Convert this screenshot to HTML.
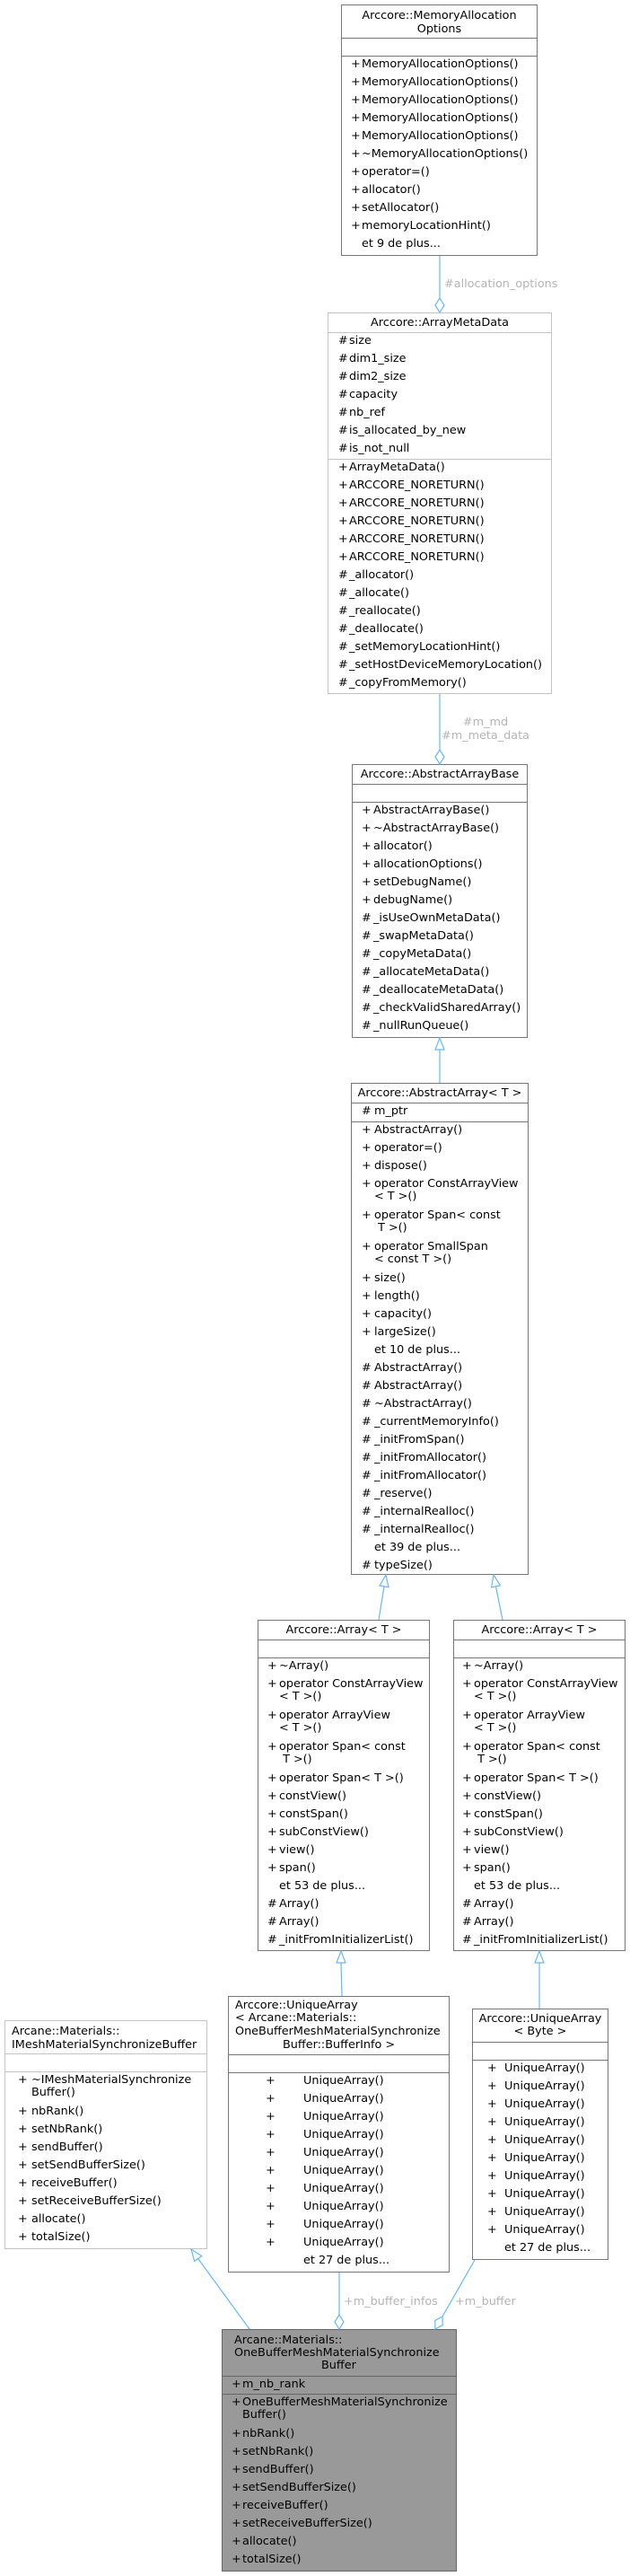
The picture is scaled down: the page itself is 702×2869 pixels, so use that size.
<!DOCTYPE html>
<html><head><meta charset="utf-8">
<style>
html,body{margin:0;padding:0;background:#fff}
body{width:702px;height:2869px;position:relative;overflow:hidden;font-family:"DejaVu Sans","Liberation Sans",sans-serif;font-size:12.8px;color:#000}
.b{position:absolute;border:1px solid #777;background:#fff;box-sizing:border-box;overflow:hidden}
.lt{border-color:#c4c4c4}
.h{box-sizing:border-box;border-bottom:1px solid;border-color:inherit;text-align:center;white-space:pre}
.sec{box-sizing:border-box;border-bottom:1px solid;border-color:inherit}
.r{height:20px;line-height:18px;position:relative;white-space:pre;padding-left:calc(var(--tx) - 1px);box-sizing:border-box}
.r2{height:35px;line-height:14px;padding-top:2px}
.s{position:absolute;left:calc(var(--sx) - 1px);top:0}
.r2 .s{top:2px}
svg{position:absolute;left:0;top:0}
.lb{fill:#b4b4b4;font-family:"DejaVu Sans","Liberation Sans",sans-serif;font-size:12.8px}
</style></head><body>

<!-- MemoryAllocationOptions -->
<div class="b" style="left:380px;top:5px;width:219px;height:280px;--sx:11px;--tx:23px">
<div class="h" style="height:37px;line-height:15px;padding-top:3.5px">Arccore::MemoryAllocation
Options</div>
<div class="sec" style="height:20px"></div>
<div class="r"><span class="s">+</span>MemoryAllocationOptions()</div>
<div class="r"><span class="s">+</span>MemoryAllocationOptions()</div>
<div class="r"><span class="s">+</span>MemoryAllocationOptions()</div>
<div class="r"><span class="s">+</span>MemoryAllocationOptions()</div>
<div class="r"><span class="s">+</span>MemoryAllocationOptions()</div>
<div class="r"><span class="s">+</span>~MemoryAllocationOptions()</div>
<div class="r"><span class="s">+</span>operator=()</div>
<div class="r"><span class="s">+</span>allocator()</div>
<div class="r"><span class="s">+</span>setAllocator()</div>
<div class="r"><span class="s">+</span>memoryLocationHint()</div>
<div class="r">et 9 de plus...</div>
</div>

<!-- ArrayMetaData -->
<div class="b lt" style="left:365px;top:348px;width:250px;height:425px;--sx:12px;--tx:24px">
<div class="h" style="height:22px;line-height:21px">Arccore::ArrayMetaData</div>
<div class="sec" style="height:141px">
<div class="r"><span class="s">#</span>size</div>
<div class="r"><span class="s">#</span>dim1_size</div>
<div class="r"><span class="s">#</span>dim2_size</div>
<div class="r"><span class="s">#</span>capacity</div>
<div class="r"><span class="s">#</span>nb_ref</div>
<div class="r"><span class="s">#</span>is_allocated_by_new</div>
<div class="r"><span class="s">#</span>is_not_null</div>
</div>
<div class="r"><span class="s">+</span>ArrayMetaData()</div>
<div class="r"><span class="s">+</span>ARCCORE_NORETURN()</div>
<div class="r"><span class="s">+</span>ARCCORE_NORETURN()</div>
<div class="r"><span class="s">+</span>ARCCORE_NORETURN()</div>
<div class="r"><span class="s">+</span>ARCCORE_NORETURN()</div>
<div class="r"><span class="s">+</span>ARCCORE_NORETURN()</div>
<div class="r"><span class="s">#</span>_allocator()</div>
<div class="r"><span class="s">#</span>_allocate()</div>
<div class="r"><span class="s">#</span>_reallocate()</div>
<div class="r"><span class="s">#</span>_deallocate()</div>
<div class="r"><span class="s">#</span>_setMemoryLocationHint()</div>
<div class="r"><span class="s">#</span>_setHostDeviceMemoryLocation()</div>
<div class="r"><span class="s">#</span>_copyFromMemory()</div>
</div>

<!-- AbstractArrayBase -->
<div class="b" style="left:392px;top:851px;width:196px;height:305px;--sx:11px;--tx:24px">
<div class="h" style="height:22px;line-height:21px">Arccore::AbstractArrayBase</div>
<div class="sec" style="height:20px"></div>
<div class="r"><span class="s">+</span>AbstractArrayBase()</div>
<div class="r"><span class="s">+</span>~AbstractArrayBase()</div>
<div class="r"><span class="s">+</span>allocator()</div>
<div class="r"><span class="s">+</span>allocationOptions()</div>
<div class="r"><span class="s">+</span>setDebugName()</div>
<div class="r"><span class="s">+</span>debugName()</div>
<div class="r"><span class="s">#</span>_isUseOwnMetaData()</div>
<div class="r"><span class="s">#</span>_swapMetaData()</div>
<div class="r"><span class="s">#</span>_copyMetaData()</div>
<div class="r"><span class="s">#</span>_allocateMetaData()</div>
<div class="r"><span class="s">#</span>_deallocateMetaData()</div>
<div class="r"><span class="s">#</span>_checkValidSharedArray()</div>
<div class="r"><span class="s">#</span>_nullRunQueue()</div>
</div>

<!-- AbstractArray -->
<div class="b" style="left:391px;top:1206px;width:198px;height:548px;--sx:12px;--tx:26px">
<div class="h" style="height:22px;line-height:21px">Arccore::AbstractArray&lt; T &gt;</div>
<div class="sec" style="height:21px"><div class="r"><span class="s">#</span>m_ptr</div></div>
<div class="r"><span class="s">+</span>AbstractArray()</div>
<div class="r"><span class="s">+</span>operator=()</div>
<div class="r"><span class="s">+</span>dispose()</div>
<div class="r r2"><span class="s">+</span>operator ConstArrayView
&lt; T &gt;()</div>
<div class="r r2"><span class="s">+</span>operator Span&lt; const
 T &gt;()</div>
<div class="r r2"><span class="s">+</span>operator SmallSpan
&lt; const T &gt;()</div>
<div class="r"><span class="s">+</span>size()</div>
<div class="r"><span class="s">+</span>length()</div>
<div class="r"><span class="s">+</span>capacity()</div>
<div class="r"><span class="s">+</span>largeSize()</div>
<div class="r">et 10 de plus...</div>
<div class="r"><span class="s">#</span>AbstractArray()</div>
<div class="r"><span class="s">#</span>AbstractArray()</div>
<div class="r"><span class="s">#</span>~AbstractArray()</div>
<div class="r"><span class="s">#</span>_currentMemoryInfo()</div>
<div class="r"><span class="s">#</span>_initFromSpan()</div>
<div class="r"><span class="s">#</span>_initFromAllocator()</div>
<div class="r"><span class="s">#</span>_initFromAllocator()</div>
<div class="r"><span class="s">#</span>_reserve()</div>
<div class="r"><span class="s">#</span>_internalRealloc()</div>
<div class="r"><span class="s">#</span>_internalRealloc()</div>
<div class="r">et 39 de plus...</div>
<div class="r"><span class="s">#</span>typeSize()</div>
</div>

<!-- Array left -->
<div class="b" style="left:287px;top:1804px;width:192px;height:369px;--sx:11px;--tx:24px">
<div class="h" style="height:22px;line-height:21px">Arccore::Array&lt; T &gt;</div>
<div class="sec" style="height:20px"></div>
<div class="r"><span class="s">+</span>~Array()</div>
<div class="r r2"><span class="s">+</span>operator ConstArrayView
&lt; T &gt;()</div>
<div class="r r2"><span class="s">+</span>operator ArrayView
&lt; T &gt;()</div>
<div class="r r2"><span class="s">+</span>operator Span&lt; const
 T &gt;()</div>
<div class="r"><span class="s">+</span>operator Span&lt; T &gt;()</div>
<div class="r"><span class="s">+</span>constView()</div>
<div class="r"><span class="s">+</span>constSpan()</div>
<div class="r"><span class="s">+</span>subConstView()</div>
<div class="r"><span class="s">+</span>view()</div>
<div class="r"><span class="s">+</span>span()</div>
<div class="r">et 53 de plus...</div>
<div class="r"><span class="s">#</span>Array()</div>
<div class="r"><span class="s">#</span>Array()</div>
<div class="r"><span class="s">#</span>_initFromInitializerList()</div>
</div>

<!-- Array right -->
<div class="b" style="left:505px;top:1804px;width:192px;height:369px;--sx:10px;--tx:23px">
<div class="h" style="height:22px;line-height:21px">Arccore::Array&lt; T &gt;</div>
<div class="sec" style="height:20px"></div>
<div class="r"><span class="s">+</span>~Array()</div>
<div class="r r2"><span class="s">+</span>operator ConstArrayView
&lt; T &gt;()</div>
<div class="r r2"><span class="s">+</span>operator ArrayView
&lt; T &gt;()</div>
<div class="r r2"><span class="s">+</span>operator Span&lt; const
 T &gt;()</div>
<div class="r"><span class="s">+</span>operator Span&lt; T &gt;()</div>
<div class="r"><span class="s">+</span>constView()</div>
<div class="r"><span class="s">+</span>constSpan()</div>
<div class="r"><span class="s">+</span>subConstView()</div>
<div class="r"><span class="s">+</span>view()</div>
<div class="r"><span class="s">+</span>span()</div>
<div class="r">et 53 de plus...</div>
<div class="r"><span class="s">#</span>Array()</div>
<div class="r"><span class="s">#</span>Array()</div>
<div class="r"><span class="s">#</span>_initFromInitializerList()</div>
</div>

<!-- IMeshMaterialSynchronizeBuffer -->
<div class="b lt" style="left:5px;top:2250px;width:226px;height:255px;--sx:15px;--tx:30px">
<div class="h" style="height:37px;line-height:15px;padding-top:3.5px;text-align:left;padding-left:7px">Arcane::Materials::
IMeshMaterialSynchronizeBuffer</div>
<div class="sec" style="height:20px"></div>
<div class="r r2"><span class="s">+</span>~IMeshMaterialSynchronize
Buffer()</div>
<div class="r"><span class="s">+</span>nbRank()</div>
<div class="r"><span class="s">+</span>setNbRank()</div>
<div class="r"><span class="s">+</span>sendBuffer()</div>
<div class="r"><span class="s">+</span>setSendBufferSize()</div>
<div class="r"><span class="s">+</span>receiveBuffer()</div>
<div class="r"><span class="s">+</span>setReceiveBufferSize()</div>
<div class="r"><span class="s">+</span>allocate()</div>
<div class="r"><span class="s">+</span>totalSize()</div>
</div>

<!-- UniqueArray BufferInfo -->
<div class="b" style="left:254px;top:2223px;width:247px;height:308px;--sx:42px;--tx:84px">
<div class="h" style="height:65px;line-height:14.7px;padding-top:2.6px;text-align:left;padding-left:7px">Arccore::UniqueArray
&lt; Arcane::Materials::
OneBufferMeshMaterialSynchronize
<span style="padding-left:53px">Buffer::BufferInfo &gt;</span></div>
<div class="sec" style="height:20px"></div>
<div class="r"><span class="s">+</span>UniqueArray()</div>
<div class="r"><span class="s">+</span>UniqueArray()</div>
<div class="r"><span class="s">+</span>UniqueArray()</div>
<div class="r"><span class="s">+</span>UniqueArray()</div>
<div class="r"><span class="s">+</span>UniqueArray()</div>
<div class="r"><span class="s">+</span>UniqueArray()</div>
<div class="r"><span class="s">+</span>UniqueArray()</div>
<div class="r"><span class="s">+</span>UniqueArray()</div>
<div class="r"><span class="s">+</span>UniqueArray()</div>
<div class="r"><span class="s">+</span>UniqueArray()</div>
<div class="r">et 27 de plus...</div>
</div>

<!-- UniqueArray Byte -->
<div class="b" style="left:526px;top:2237px;width:152px;height:280px;--sx:17px;--tx:36px">
<div class="h" style="height:37px;line-height:14.5px;padding-top:3.75px">Arccore::UniqueArray
&lt; Byte &gt;</div>
<div class="sec" style="height:20px"></div>
<div class="r"><span class="s">+</span>UniqueArray()</div>
<div class="r"><span class="s">+</span>UniqueArray()</div>
<div class="r"><span class="s">+</span>UniqueArray()</div>
<div class="r"><span class="s">+</span>UniqueArray()</div>
<div class="r"><span class="s">+</span>UniqueArray()</div>
<div class="r"><span class="s">+</span>UniqueArray()</div>
<div class="r"><span class="s">+</span>UniqueArray()</div>
<div class="r"><span class="s">+</span>UniqueArray()</div>
<div class="r"><span class="s">+</span>UniqueArray()</div>
<div class="r"><span class="s">+</span>UniqueArray()</div>
<div class="r">et 27 de plus...</div>
</div>

<!-- Final -->
<div class="b" style="left:247px;top:2594px;width:262px;height:270px;background:#999;border-color:#666;--sx:11px;--tx:23px">
<div class="h" style="height:52px;line-height:14px;padding-top:5px;text-align:left;padding-left:13px">Arcane::Materials::
OneBufferMeshMaterialSynchronize
<span style="padding-left:97px">Buffer</span></div>
<div class="sec" style="height:20px"><div class="r"><span class="s">+</span>m_nb_rank</div></div>
<div class="r r2"><span class="s">+</span>OneBufferMeshMaterialSynchronize
Buffer()</div>
<div class="r"><span class="s">+</span>nbRank()</div>
<div class="r"><span class="s">+</span>setNbRank()</div>
<div class="r"><span class="s">+</span>sendBuffer()</div>
<div class="r"><span class="s">+</span>setSendBufferSize()</div>
<div class="r"><span class="s">+</span>receiveBuffer()</div>
<div class="r"><span class="s">+</span>setReceiveBufferSize()</div>
<div class="r"><span class="s">+</span>allocate()</div>
<div class="r"><span class="s">+</span>totalSize()</div>
</div>

<svg width="702" height="2869" viewBox="0 0 702 2869">
<g stroke="#63b8ff" stroke-width="1.2" fill="#fff">
<!-- MAO -> AMD -->
<line x1="490" y1="285" x2="490" y2="332"/>
<polygon points="490,332 485,340 490,348 495,340"/>
<!-- AMD -> AAB -->
<line x1="490" y1="773" x2="490" y2="835"/>
<polygon points="490,835 485,843 490,851 495,843"/>
<!-- AAB <- AA -->
<line x1="490" y1="1169" x2="490" y2="1206"/>
<polygon points="490,1156 485,1169 495,1169"/>
<!-- AA <- left Array -->
<line x1="428" y1="1767" x2="422" y2="1804"/>
<polygon points="430,1754 432.9,1767.6 423,1766"/>
<!-- AA <- right Array -->
<line x1="552.5" y1="1767" x2="560" y2="1804"/>
<polygon points="550,1754 557.4,1765.8 547.6,1767.8"/>
<!-- left Array <- UA BI -->
<line x1="380" y1="2186" x2="381" y2="2223"/>
<polygon points="380,2173 375,2186 385,2186"/>
<!-- right Array <- UA Byte -->
<line x1="601" y1="2186" x2="601" y2="2237"/>
<polygon points="601,2173 596,2186 606,2186"/>
<!-- IMesh <- Final -->
<line x1="220.7" y1="2515.5" x2="278" y2="2594"/>
<polygon points="213,2505 224.8,2512.6 216.7,2518.4"/>
<!-- UA BI -> Final -->
<line x1="378" y1="2531" x2="378" y2="2578"/>
<polygon points="378,2578 373,2586 378,2594 383,2586"/>
<!-- UA Byte -> Final -->
<line x1="529" y1="2517" x2="493" y2="2580"/>
<polygon points="493,2580 493.3,2589.5 485,2594 484.7,2584.5"/>
</g>
<text class="lb" x="495" y="320">#allocation_options</text>
<text class="lb" x="541" y="808" text-anchor="middle">#m_md</text>
<text class="lb" x="541" y="823" text-anchor="middle">#m_meta_data</text>
<text class="lb" x="383" y="2567">+m_buffer_infos</text>
<text class="lb" x="507" y="2567">+m_buffer</text>
</svg>
</body></html>
